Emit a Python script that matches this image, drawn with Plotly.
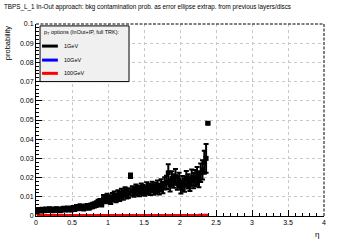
import plotly.graph_objects as go

bin_width = 0.025
eta = [round(0.0125 + bin_width * i, 4) for i in range(96)]

prob_1gev = [
    0.0024, 0.0032, 0.0028, 0.0033, 0.0030, 0.0034, 0.0031, 0.0035, 0.0033, 0.0030,
    0.0034, 0.0036, 0.0032, 0.0030, 0.0035, 0.0037, 0.0033, 0.0038, 0.0036, 0.0034,
    0.0040, 0.0038, 0.0045, 0.0042, 0.0048, 0.0044, 0.0040, 0.0047, 0.0050, 0.0046,
    0.0052, 0.0055, 0.0058, 0.0062,
    0.0068, 0.0072, 0.0065, 0.0090, 0.0085, 0.0095,
    0.0088, 0.0082, 0.0098, 0.0105, 0.0092, 0.0110, 0.0100, 0.0118, 0.0108, 0.0125,
    0.0115, 0.0120,
    0.0210, 0.0130, 0.0125, 0.0138, 0.0132, 0.0128, 0.0142, 0.0135, 0.0130, 0.0148,
    0.0140, 0.0136,
    0.0150, 0.0138, 0.0145, 0.0155, 0.0140, 0.0160, 0.0148, 0.0170,
    0.0175, 0.0225, 0.0160, 0.0195, 0.0182, 0.0205, 0.0170, 0.0188,
    0.0150, 0.0172, 0.0160, 0.0195, 0.0180, 0.0165, 0.0200, 0.0185,
    0.0198, 0.0210, 0.0190, 0.0225, 0.0240, 0.0280, 0.0300, 0.0483,
]
err_1gev = [
    0.0011, 0.0010, 0.0010, 0.0010, 0.0010, 0.0010, 0.0010, 0.0010, 0.0010, 0.0010,
    0.0010, 0.0010, 0.0010, 0.0010, 0.0010, 0.0011, 0.0010, 0.0011, 0.0011, 0.0010,
    0.0012, 0.0012, 0.0012, 0.0012, 0.0013, 0.0012, 0.0012, 0.0013, 0.0013, 0.0013,
    0.0013, 0.0014, 0.0014, 0.0015,
    0.0016, 0.0016, 0.0016, 0.0020, 0.0019, 0.0021,
    0.0020, 0.0019, 0.0022, 0.0022, 0.0021, 0.0024, 0.0022, 0.0024, 0.0023, 0.0025,
    0.0024, 0.0025,
    0.0012, 0.0025, 0.0025, 0.0026, 0.0025, 0.0025, 0.0027, 0.0026, 0.0025, 0.0028,
    0.0027, 0.0026,
    0.0028, 0.0027, 0.0028, 0.0030, 0.0028, 0.0031, 0.0029, 0.0032,
    0.0034, 0.0045, 0.0032, 0.0038, 0.0035, 0.0040, 0.0033, 0.0037,
    0.0033, 0.0036, 0.0034, 0.0040, 0.0037, 0.0035, 0.0042, 0.0040,
    0.0042, 0.0045, 0.0040, 0.0048, 0.0050, 0.0060, 0.0075, 0.0005,
]
prob_10gev = [0.0] * 91 + [0.0004, 0.0004, 0.0004, 0.0004, 0.0004]
prob_100gev = [0.0] * 96

x_ticks = [0, 0.5, 1, 1.5, 2, 2.5, 3, 3.5, 4]
x_tick_text = ["0", "0.5", "1", "1.5", "2", "2.5", "3", "3.5", "4"]
y_ticks = [0, 0.01, 0.02, 0.03, 0.04, 0.05, 0.06, 0.07, 0.08, 0.09, 0.1]
y_tick_text = ["0", "0.01", "0.02", "0.03", "0.04", "0.05", "0.06", "0.07", "0.08", "0.09", "0.1"]

FONT = "Liberation Sans, Arial, Helvetica, sans-serif"

fig = go.Figure()

fig.add_trace(go.Scatter(
    x=eta, y=prob_10gev, mode="lines", line=dict(color="#0000ff", width=3, shape="hvh"),
    showlegend=False, hoverinfo="skip"))
fig.add_trace(go.Scatter(
    x=eta, y=prob_100gev, mode="lines", line=dict(color="#ff0000", width=4, shape="hvh"),
    showlegend=False, hoverinfo="skip"))
fig.add_trace(go.Scatter(
    x=eta, y=prob_1gev, mode="markers",
    marker=dict(color="black", size=5, symbol="square"),
    error_y=dict(type="data", array=err_1gev, color="black", thickness=2, width=2.5),
    error_x=dict(type="constant", value=bin_width / 2, color="black", thickness=3, width=0),
    showlegend=False))

shapes = [
    dict(type="line", xref="paper", yref="paper", x0=0, x1=1, y0=1, y1=1,
         line=dict(color="black", width=1, dash="3px,1.5px")),
    dict(type="line", xref="paper", yref="paper", x0=1, x1=1, y0=0, y1=1,
         line=dict(color="black", width=1, dash="3px,1.5px")),
    # legend box
    dict(type="rect", xref="paper", yref="paper", x0=0.014, x1=0.323, y0=0.7, y1=0.99,
         fillcolor="#f0f0f0", line=dict(color="black", width=1), layer="above"),
]
legend_items = [("1GeV", "black", 0.885), ("10GeV", "#0000ff", 0.812), ("100GeV", "#ff0000", 0.743)]
annotations = [
    dict(text="TBPS_L_1 In-Out approach: bkg contamination prob. as error ellipse extrap. from previous layers/discs",
         xref="paper", yref="paper", x=-0.118, y=1.088, xanchor="left", yanchor="middle",
         showarrow=False, font=dict(family=FONT, size=6.3, color="black")),
    dict(text="probability", xref="paper", yref="paper", x=-0.1, y=1.0, xanchor="center", yanchor="top",
         textangle=-90, showarrow=False, font=dict(family=FONT, size=7.5, color="black")),
    dict(text="η", xref="paper", yref="paper", x=0.99, y=-0.06, xanchor="right", yanchor="top",
         showarrow=False, font=dict(family=FONT, size=8, color="black")),
    dict(text="p<sub>T</sub> options (InOut+IP, full TRK):", xref="paper", yref="paper",
         x=0.022, y=0.957, xanchor="left", yanchor="middle",
         showarrow=False, font=dict(family=FONT, size=5.5, color="black")),
]
for label, color, yy in legend_items:
    shapes.append(dict(type="line", xref="paper", yref="paper", x0=0.021, x1=0.076, y0=yy, y1=yy,
                       line=dict(color=color, width=3), layer="above"))
    annotations.append(dict(text=label, xref="paper", yref="paper", x=0.09, y=yy,
                            xanchor="left", yanchor="middle", showarrow=False,
                            font=dict(family=FONT, size=5.5, color="black")))

fig.update_layout(
    width=360, height=240,
    margin=dict(l=36, r=36, t=24, b=24),
    paper_bgcolor="white", plot_bgcolor="white",
    font=dict(family=FONT, size=7, color="black"),
    shapes=shapes, annotations=annotations,
    xaxis=dict(range=[0, 4], tickvals=x_ticks, ticktext=x_tick_text,
               ticks="inside", ticklen=6, tickcolor="black", tickwidth=1,
               minor=dict(dtick=0.1, ticks="inside", ticklen=3, tickcolor="black", showgrid=False),
               showline=True, linecolor="black", linewidth=1, mirror=False,
               showgrid=True, gridcolor="#c8c8c8", griddash="dot", gridwidth=1,
               zeroline=False, tickfont=dict(size=7, family=FONT)),
    yaxis=dict(range=[0, 0.1], tickvals=y_ticks, ticktext=y_tick_text,
               ticks="inside", ticklen=6, tickcolor="black", tickwidth=1,
               minor=dict(dtick=0.002, ticks="inside", ticklen=3, tickcolor="black", showgrid=False),
               showline=True, linecolor="black", linewidth=1, mirror=False,
               showgrid=True, gridcolor="#c8c8c8", griddash="dot", gridwidth=1,
               zeroline=False, tickfont=dict(size=7, family=FONT)),
)

fig.write_html("out.html")
